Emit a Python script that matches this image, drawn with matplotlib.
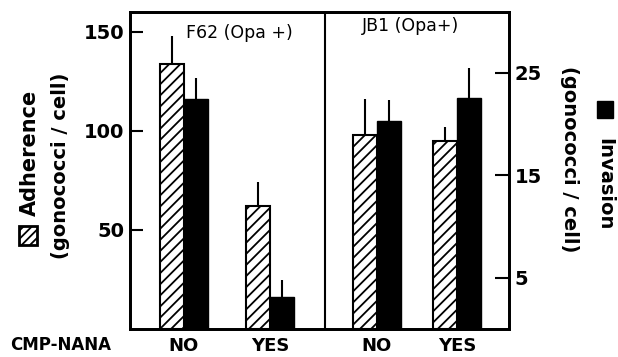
import matplotlib.pyplot as plt
from matplotlib.patches import Rectangle

groups = ['NO', 'YES', 'NO', 'YES']
strains = ['F62 (Opa +)', 'JB1 (Opa+)']
adherence = [134, 62, 98, 95]
adherence_err = [14, 12, 18, 7]
invasion = [22.4, 3.1, 20.3, 22.5]
invasion_err = [2.1, 1.7, 2.0, 2.9]

# layout (pixel-like x units)
centers = [54, 140, 247, 327]
w = 24
divider = 195
W, H = 618, 357

plt.rcParams['font.family'] = 'DejaVu Sans'
plt.rcParams['font.weight'] = 'bold'
plt.rcParams['hatch.linewidth'] = 1.3

fig = plt.figure(figsize=(6.18, 3.57), dpi=100)
ax = fig.add_axes([130/W, 1 - 329/H, 379/W, 317/H])
ax2 = ax.twinx()

xa = [c - w/2 for c in centers]
xi = [c + w/2 for c in centers]

ax.bar(xa, adherence, width=w, facecolor='white', edgecolor='black',
       hatch='///', linewidth=1.5, zorder=2)
ax.errorbar(xa, adherence, yerr=[[0]*4, adherence_err], fmt='none',
            ecolor='black', elinewidth=1.5, capsize=0, zorder=1)

ax2.bar(xi, invasion, width=w, color='black', edgecolor='black', zorder=2)
ax2.errorbar(xi, invasion, yerr=[[0]*4, invasion_err], fmt='none',
             ecolor='black', elinewidth=1.5, capsize=0, zorder=1)

ax.set_xlim(0, 379)
ax.set_ylim(0, 160)
ax2.set_ylim(0, 30.9)

ax.set_yticks([50, 100, 150])
ax2.set_yticks([5, 15, 25])
ax.tick_params(axis='y', direction='in', length=9, width=1.5, labelsize=14, pad=4)
ax2.tick_params(axis='y', direction='in', length=10, width=1.5, labelsize=14, pad=4)
ax.set_xticks(centers)
ax.set_xticklabels(groups, fontsize=13)
ax.tick_params(axis='x', length=0, pad=6)

for a in (ax, ax2):
    for s in a.spines.values():
        s.set_linewidth(2)
ax.axvline(divider, color='black', linewidth=1.5)

ax.text(109, 149.5, strains[0], ha='center', va='center', fontsize=12.5, fontweight='normal')
ax.text(281, 153, strains[1], ha='center', va='center', fontsize=12.5, fontweight='normal')

fig.text(10/W, 1 - 345/H, 'CMP-NANA', ha='left', va='center', fontsize=12)

# left axis label with hatched key
fig.text(30/W, 1 - 153/H, 'Adherence', rotation=90, ha='center', va='center', fontsize=15)
fig.text(60/W, 1 - 166/H, '(gonococci / cell)', rotation=90, ha='center', va='center', fontsize=14)
fig.patches.append(Rectangle((19/W, 1 - 245/H), 18/W, 19/H, transform=fig.transFigure,
                             facecolor='white', edgecolor='black', hatch='////', linewidth=2))

# right axis label with solid key
fig.text(569/W, 1 - 159/H, '(gonococci / cell)', rotation=-90, ha='center', va='center', fontsize=14)
fig.text(605/W, 1 - 184/H, 'Invasion', rotation=-90, ha='center', va='center', fontsize=14)
fig.patches.append(Rectangle((597/W, 1 - 118/H), 16/W, 17/H, transform=fig.transFigure,
                             facecolor='black', edgecolor='black'))

plt.savefig('out.png', dpi=100)
